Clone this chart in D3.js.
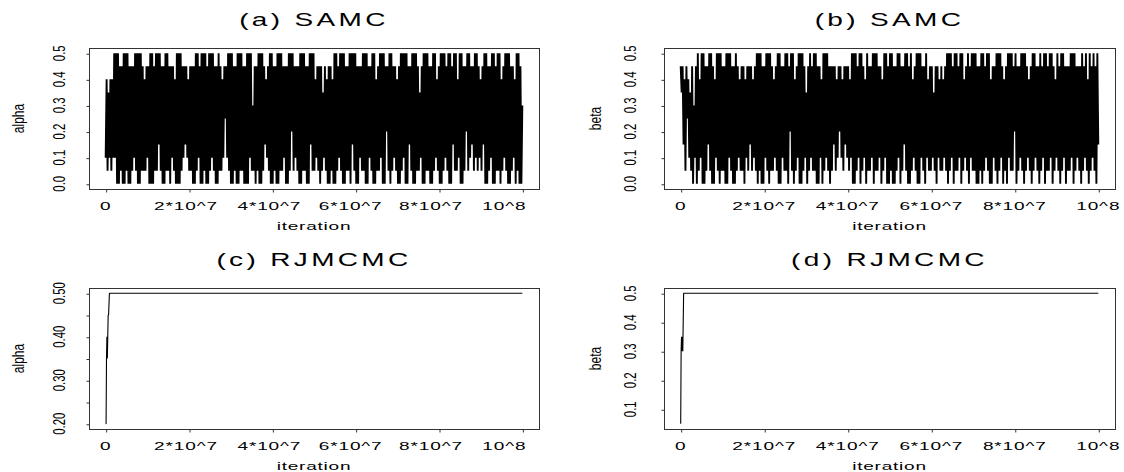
<!DOCTYPE html>
<html><head><meta charset="utf-8">
<script src="https://cdn.jsdelivr.net/npm/d3@7/dist/d3.min.js"></script>
<style>
html,body{margin:0;padding:0;background:#fff;}
svg{display:block;}
text{font-family:"Liberation Sans",Arial,Helvetica,sans-serif;fill:#000;}
</style></head>
<body>
<svg id="chart" width="1124" height="472"></svg>
<script>
// ---------------- data ----------------
const panelTitles = ["(a) SAMC", "(b) SAMC", "(c) RJMCMC", "(d) RJMCMC"];
const yLabels = ["alpha", "beta", "alpha", "beta"];
const xLabel = "iteration";
const xTickValues = [0, 2e7, 4e7, 6e7, 8e7, 1e8];
const xTickLabels = ["0", "2*10^7", "4*10^7", "6*10^7", "8*10^7", "10^8"];
const yTicksSAMC = [0, 0.1, 0.2, 0.3, 0.4, 0.5];
const yTickLabelsSAMC = ["0.0", "0.1", "0.2", "0.3", "0.4", "0.5"];
const yTicksC = [0.20, 0.25, 0.30, 0.35, 0.40, 0.45, 0.50];
const yTickLabelsC = ["0.20", "", "0.30", "", "0.40", "", "0.50"];
const yTicksD = [0.1, 0.2, 0.3, 0.4, 0.5];
const yTickLabelsD = ["0.1", "0.2", "0.3", "0.4", "0.5"];
const totalIterations = 1e8;

// SAMC trace of alpha (thinned samples, evenly spaced over the run)
const samcAlpha = [
.1,.4,.05,.35,.1,.4,.05,.4,.1,.5,.1,.5,0,.5,0,.45,.05,.45,0,.5,
0,.5,.05,.5,0,.45,0,.45,.05,.45,.1,.5,.05,.5,0,.5,0,.5,.05,.45,
.05,.4,.05,.45,.1,.45,0,.5,0,.5,0,.45,.05,.5,.05,.5,.15,.5,.05,.45,
0,.45,0,.5,.05,.5,.05,.45,0,.45,.1,.45,.05,.4,0,.5,0,.5,0,.5,
.05,.45,.1,.45,.15,.45,.1,.4,.05,.45,.05,.45,0,.45,0,.5,.05,.5,.1,.45,
0,.5,0,.5,.05,.5,0,.45,0,.5,.05,.5,.1,.5,.05,.45,0,.45,0,.5,
.05,.45,.05,.4,.1,.45,.25,.45,.1,.5,.05,.5,0,.5,0,.45,.05,.45,0,.5,
0,.5,.05,.5,.05,.45,0,.45,0,.5,0,.5,.1,.5,.05,.3,.05,.45,0,.45,
.05,.5,0,.5,0,.5,.05,.45,.15,.4,.1,.45,.05,.5,0,.5,0,.45,.05,.45,
0,.5,0,.5,.05,.5,.05,.45,.1,.45,0,.45,0,.5,.05,.5,.2,.5,.05,.45,
.1,.45,.05,.45,0,.5,0,.5,.05,.5,.05,.45,0,.45,0,.5,.15,.5,.05,.5,
.05,.4,.1,.45,.05,.45,0,.45,.05,.35,.1,.45,.05,.4,0,.45,0,.45,.05,.4,
0,.5,0,.5,.05,.45,.1,.5,.05,.5,0,.5,0,.45,.05,.45,.05,.5,0,.5,
.15,.5,.05,.5,0,.45,0,.45,.1,.45,.05,.5,.05,.5,0,.5,0,.45,.1,.45,
.05,.5,0,.5,0,.4,.05,.45,.05,.5,.1,.5,0,.5,0,.45,.2,.45,.05,.5,
0,.5,.05,.45,.1,.45,.05,.4,0,.45,0,.5,.05,.5,.1,.5,0,.5,0,.45,
.15,.45,.05,.5,0,.5,0,.5,.05,.45,.05,.35,.1,.45,0,.5,0,.5,.05,.5,
.05,.45,0,.45,0,.5,.05,.5,.1,.4,.05,.45,0,.5,0,.5,.05,.5,.1,.45,
.05,.5,0,.5,0,.45,.15,.5,.05,.5,.05,.4,.1,.5,0,.5,0,.45,.05,.45,
.2,.5,.05,.5,.1,.45,.15,.45,.05,.5,.1,.5,.05,.45,.1,.4,.05,.45,.15,.5,
0,.5,0,.45,.05,.45,.1,.5,0,.5,0,.45,.05,.5,.05,.5,0,.4,.05,.45,
.1,.5,.05,.5,0,.5,0,.45,.05,.45,.1,.4,0,.5,.05,.5,0,.45,0,.3
];

// SAMC trace of beta
const samcBeta = [
.45,.35,.45,.15,.4,.05,.45,.25,.4,.1,.35,.05,.45,0,.3,.1,.45,0,.5,.05,
.4,.1,.5,0,.5,0,.45,.05,.45,.15,.5,.05,.5,0,.45,0,.4,.1,.5,.05,
.5,0,.5,.05,.45,.05,.45,0,.5,0,.5,.1,.5,.05,.45,0,.45,0,.5,.05,
.45,.1,.4,.05,.45,.05,.45,0,.4,.1,.45,.05,.45,.15,.45,.05,.4,.1,.45,.05,
.5,0,.5,.05,.5,0,.45,0,.45,.1,.5,.05,.5,0,.5,.05,.45,.05,.4,.1,
.45,.05,.5,0,.5,0,.45,.1,.45,.05,.5,.05,.5,0,.45,.2,.5,.05,.5,0,
.4,.05,.45,.1,.5,0,.5,0,.5,.05,.45,.1,.35,0,.45,.05,.5,.1,.45,.05,
.5,.05,.5,0,.45,0,.45,.1,.4,0,.5,.05,.5,.1,.5,.05,.45,0,.45,.05,
.45,.15,.45,.05,.4,.1,.45,.2,.45,.1,.4,.05,.45,.15,.45,.1,.45,.05,.4,.1,
.5,0,.5,0,.5,.05,.45,.1,.5,0,.5,.05,.45,.1,.4,0,.5,.05,.45,.05,
.45,.1,.5,0,.5,.05,.5,.05,.45,.1,.45,0,.4,.05,.5,.1,.5,0,.45,0,
.5,.05,.5,0,.45,0,.45,.05,.5,.1,.5,0,.45,.05,.45,.15,.5,.05,.5,0,
.45,0,.5,.05,.4,.1,.45,.05,.5,0,.5,0,.5,.1,.45,.05,.45,0,.5,.1,
.4,.05,.45,.05,.45,.1,.35,.05,.45,0,.45,.1,.4,.05,.45,.05,.4,.1,.45,.05,
.5,0,.5,.05,.5,.1,.45,0,.5,.05,.5,.05,.45,.1,.5,0,.5,.05,.4,.1,
.45,.05,.5,0,.45,.1,.5,.05,.5,.05,.5,0,.45,0,.45,.05,.5,0,.5,.05,
.45,.1,.5,.05,.5,0,.4,0,.45,.1,.45,.05,.5,0,.5,.05,.5,.1,.45,0,
.4,.05,.45,0,.5,.1,.5,.05,.5,.05,.45,.2,.5,0,.45,.05,.45,.1,.5,.05,
.5,0,.5,.05,.45,.1,.4,.05,.45,0,.5,.05,.5,.1,.45,.05,.45,0,.5,.05,
.45,.1,.5,0,.5,.05,.45,.05,.5,.1,.5,0,.45,.05,.4,.1,.5,.05,.45,0,
.5,.05,.5,.1,.45,0,.45,.05,.45,.05,.5,.1,.5,0,.5,.05,.45,.1,.45,.05,
.45,0,.5,.05,.45,.1,.5,.05,.4,0,.5,.05,.45,.1,.5,.05,.45,0,.5,.15
];

// RJMCMC traces: (iteration, value) change points; stays at 0.5 afterwards
const rjIterAlpha = [0, 1e5, 2e5, 3e5, 4e5, 5e5, 6e5, 7e5, 9e5, 1e8];
const rjAlpha     = [0.20, 0.20, 0.35, 0.40, 0.35, 0.40, 0.45, 0.45, 0.50, 0.50];
const rjIterBeta  = [0, 1e5, 2e5, 3e5, 4e5, 5e5, 7e5, 1e8];
const rjBeta      = [0.05, 0.30, 0.35, 0.30, 0.35, 0.30, 0.50, 0.50];

// ---------------- drawing ----------------
const svg = d3.select("#chart");

function traceIter(vals) {
  const step = totalIterations / (vals.length - 1);
  return vals.map((v, i) => [i * step, v]);
}

// label nudges (px) of the x tick labels for the left-hand panels, as in the original figure
const leftLabelNudge = [0, -3, -3, -5, -8, -18];
const rightLabelNudge = [0, 0, 0, 0, 0, 0];

const panels = [
  {box:[89, 539, 48, 189],  yDom:[0, 0.5],  yt:yTicksSAMC, ytl:yTickLabelsSAMC, data:traceIter(samcAlpha), sw:1.9,
   yTickX:65, yLabX:24, titleY:26, xTickY:210, xLabY:230, nudge:leftLabelNudge},
  {box:[664, 1115, 48, 189], yDom:[0, 0.5], yt:yTicksSAMC, ytl:yTickLabelsSAMC, data:traceIter(samcBeta), sw:1.9,
   yTickX:636, yLabX:601, titleY:26, xTickY:210, xLabY:230, nudge:rightLabelNudge},
  {box:[89, 539, 288, 429], yDom:[0.2, 0.5], yt:yTicksC, ytl:yTickLabelsC, data:rjIterAlpha.map((t,i)=>[t, rjAlpha[i]]), sw:1.1,
   yTickX:65, yLabX:24, titleY:266, xTickY:450, xLabY:470, nudge:leftLabelNudge},
  {box:[664, 1115, 288, 429], yDom:[0.05, 0.5], yt:yTicksD, ytl:yTickLabelsD, data:rjIterBeta.map((t,i)=>[t, rjBeta[i]]), sw:1.1,
   yTickX:636, yLabX:601, titleY:266, xTickY:450, xLabY:470, nudge:rightLabelNudge}
];

function hText(g, x, y, str, size, sx, ls) {
  g.append("text")
    .attr("transform", `translate(${x},${y}) scale(${sx},1)`)
    .attr("text-anchor", "middle")
    .style("font-size", size + "px")
    .style("letter-spacing", (ls || 0) + "px")
    .text(str);
}
function vText(g, x, y, str, size, sx) {
  g.append("text")
    .attr("transform", `translate(${x},${y}) scale(${sx},1) rotate(-90)`)
    .attr("text-anchor", "middle")
    .style("font-size", size + "px")
    .text(str);
}

panels.forEach((p, k) => {
  const [x0, x1, y0, y1] = p.box;
  const xr = totalIterations;
  const x = d3.scaleLinear().domain([-0.04 * xr, 1.04 * xr]).range([x0, x1]);
  const yr = p.yDom[1] - p.yDom[0];
  const y = d3.scaleLinear().domain([p.yDom[0] - 0.04 * yr, p.yDom[1] + 0.04 * yr]).range([y1, y0]);
  const g = svg.append("g");

  // trace
  g.append("path")
    .datum(p.data)
    .attr("fill", "none")
    .attr("stroke", "#000")
    .attr("stroke-width", p.sw)
    .attr("stroke-linejoin", "bevel")
    .attr("d", d3.line().x(d => x(d[0])).y(d => y(d[1])));

  // box
  g.append("rect")
    .attr("x", x0 + 0.5).attr("y", y0 + 0.5)
    .attr("width", x1 - x0).attr("height", y1 - y0)
    .attr("fill", "none").attr("stroke", "#333").attr("stroke-width", 1);

  // x axis
  const xa = g.append("g").attr("transform", `translate(0.5,${y1 + 0.5})`)
    .call(d3.axisBottom(x).tickValues(xTickValues).tickSize(3).tickFormat(() => ""));
  xa.select(".domain").remove();
  xa.selectAll("line").attr("stroke", "#333");
  xTickValues.forEach((v, i) => hText(g, x(v) + p.nudge[i], p.xTickY, xTickLabels[i], 11.2, 1.7, 0.5));

  // y axis
  const ya = g.append("g").attr("transform", `translate(${x0 + 0.5},0.5)`)
    .call(d3.axisLeft(y).tickValues(p.yt).tickSize(3).tickFormat(() => ""));
  ya.select(".domain").remove();
  ya.selectAll("line").attr("stroke", "#333");
  p.yt.forEach((v, i) => { if (p.ytl[i]) vText(g, p.yTickX, y(v), p.ytl[i], 11.4, 1.45); });

  // labels
  vText(g, p.yLabX, (y0 + y1) / 2, yLabels[k], 12, 1.4);
  hText(g, (x0 + x1) / 2, p.xLabY, xLabel, 11.2, 1.7, 0.45);
  hText(g, (x0 + x1) / 2, p.titleY, panelTitles[k], 17.5, 1.6, 2.1);
});
</script>
</body></html>
